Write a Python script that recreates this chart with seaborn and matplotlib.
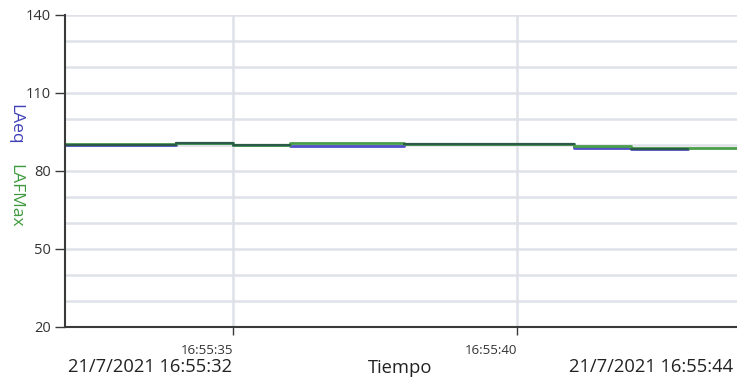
import matplotlib
matplotlib.use("Agg")
import matplotlib.pyplot as plt
import matplotlib.dates as mdates
from matplotlib.ticker import MultipleLocator, FixedLocator
import seaborn as sns
import pandas as pd
import numpy as np

# ---- data ----
base = "2021-07-21 16:55:"
laeq_secs = [32, 33, 34, 35, 36, 37, 38, 39, 40, 41, 42, 43]
laeq_vals = [90.0, 90.0, 90.6, 90.0, 89.8, 89.8, 90.2, 90.2, 90.2, 89.0, 88.4, 88.4]
lafmax_secs = [32, 33, 34, 35, 36, 37, 38, 39, 40, 41, 42, 43, 44]
lafmax_vals = [90.2, 90.2, 90.7, 90.1, 90.6, 90.6, 90.3, 90.3, 90.3, 89.7, 88.7, 89.0, 89.0]
y_ticks = [20, 50, 80, 110, 140]
x_tick_secs = [35, 40]
start_label = "21/7/2021 16:55:32"
end_label = "21/7/2021 16:55:44"
x_title = "Tiempo"

def to_time(secs):
    return pd.to_datetime([f"{base}{s:02d}" for s in secs])

df_eq = pd.DataFrame({"t": to_time(laeq_secs), "v": laeq_vals})
df_max = pd.DataFrame({"t": to_time(lafmax_secs), "v": lafmax_vals})

# overlapping step segments (where both series nearly coincide) -> darker blend
rows = []
for i in range(len(laeq_secs) - 1):
    a, b = laeq_vals[i], lafmax_vals[i]
    if abs(a - b) < 0.35:
        m = (a + b) / 2
        ts = to_time([laeq_secs[i], laeq_secs[i + 1]])
        rows.append({"seg": i, "t": ts[0], "v": m})
        rows.append({"seg": i, "t": ts[1], "v": m})
df_ov = pd.DataFrame(rows)

sns.set_theme(style="white")
plt.rcParams["font.family"] = ["Open Sans", "DejaVu Sans"]

fig = plt.figure(figsize=(7.37, 3.79), dpi=100)
ax = fig.add_axes([65/737, 52/379, 672/737, 312/379])

green = "#4a9e4a"
blue = "#5050c8"
sns.lineplot(data=df_eq, x="t", y="v", ax=ax, color=blue, lw=2.0, drawstyle="steps-post")
sns.lineplot(data=df_max, x="t", y="v", ax=ax, color=green, lw=2.0, drawstyle="steps-post")
sns.lineplot(data=df_ov, x="t", y="v", units="seg", estimator=None, ax=ax,
             color="#2c5a48", lw=1.6)

ax.set_xlim(pd.Timestamp(base + "32.04"), pd.Timestamp(base + "43.87"))
ax.set_ylim(20, 140)

ax.yaxis.set_major_locator(FixedLocator(y_ticks))
ax.yaxis.set_minor_locator(MultipleLocator(10))
ax.xaxis.set_major_locator(FixedLocator(mdates.date2num(to_time(x_tick_secs))))
ax.xaxis.set_major_formatter(mdates.DateFormatter("%H:%M:%S"))

gridc = "#dfe1e9"
ax.grid(True, which="both", axis="y", color=gridc, lw=1.8)
ax.grid(True, which="major", axis="x", color=gridc, lw=1.8)
ax.set_axisbelow(True)

for s in ["top", "right"]:
    ax.spines[s].set_visible(False)
for s in ["left", "bottom"]:
    ax.spines[s].set_color("#3a3a3a")
    ax.spines[s].set_linewidth(1.5)

ax.tick_params(axis="y", which="major", length=7, width=1, color="#3a3a3a",
               labelsize=10.5, labelcolor="#333333", pad=3, left=True)
ax.tick_params(axis="y", which="minor", length=0)
ax.tick_params(axis="x", which="major", length=6, width=1, color="#3a3a3a",
               labelsize=9.5, labelcolor="#333333", pad=6, bottom=True)
for lbl in ax.get_xticklabels():
    lbl.set_ha("right")

ax.set_xlabel("")
ax.set_ylabel("")

fig.text(68/737, 1 - 367/379, start_label, ha="left", va="center", fontsize=13.2, color="#222222")
fig.text(400/737, 1 - 368/379, x_title, ha="center", va="center", fontsize=13.2, color="#222222")
fig.text(733/737, 1 - 367/379, end_label, ha="right", va="center", fontsize=13.2, color="#222222")

fig.text(15/737, 1 - 124/379, "LAeq", rotation=-90, ha="center", va="center", fontsize=12.5, color="#4040b8")
fig.text(15/737, 1 - 196/379, "LAFMax", rotation=-90, ha="center", va="center", fontsize=12.5, color="#3f9a3f")

fig.savefig("out.png", dpi=100)
